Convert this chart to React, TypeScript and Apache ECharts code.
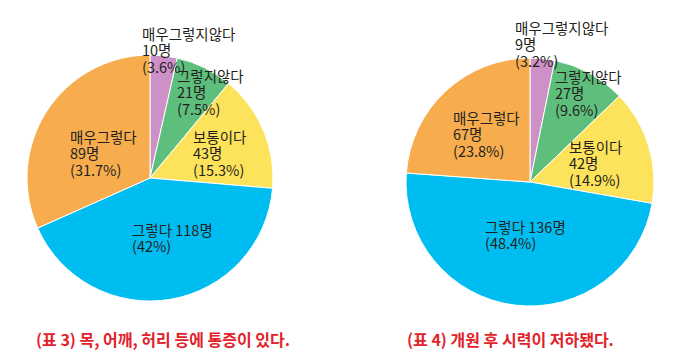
import React, { useEffect, useRef } from "react";
import * as echarts from "echarts";

const categories = ["매우그렇지않다", "그렇지않다", "보통이다", "그렇다", "매우그렇다"];
const colors = ["#CD90C7", "#5EBE7C", "#FDE35B", "#00BDF1", "#F7AD4E"];

const leftValues = [10, 21, 43, 118, 89];
const leftPercents = ["3.6", "7.5", "15.3", "42", "31.7"];
const leftCaption = "(표 3) 목, 어깨, 허리 등에 통증이 있다.";

const rightValues = [9, 27, 42, 136, 67];
const rightPercents = ["3.2", "9.6", "14.9", "48.4", "23.8"];
const rightCaption = "(표 4) 개원 후 시력이 저하됐다.";

// label anchor offsets (top-left of label block) relative to pie centre
const leftLabelOffsets = [[-8, -153], [27, -111], [43, -50], [-18, 43], [-80, -50]];
const rightLabelOffsets = [[-15, -163], [25, -114], [39, -44], [-45, 36], [-77, -73]];

const LEFT_CENTER = [150, 178];
const RIGHT_CENTER = [530, 182];

function makeSeries(values: number[], percents: string[], center: number[], radius: number, offsets: number[][]) {
  return {
    type: "pie",
    center,
    radius,
    startAngle: 90,
    clockwise: true,
    avoidLabelOverlap: false,
    itemStyle: { borderColor: "#ffffff", borderWidth: 1 },
    label: {
      show: true,
      position: "inside",
      color: "#231F20",
      fontSize: 14.5,
      lineHeight: 16.5,
      fontFamily: "'Noto Sans CJK KR', 'Noto Sans', sans-serif",
      align: "left",
      formatter: (p: any) => {
        const pct = percents[p.dataIndex];
        if (p.name === "그렇다") return `${p.name} ${p.value}명\n(${pct}%)`;
        return `${p.name}\n${p.value}명\n(${pct}%)`;
      },
    },
    labelLine: { show: false },
    labelLayout: (params: any) => {
      const o = offsets[params.dataIndex];
      return { x: center[0] + o[0], y: center[1] + o[1], align: "left", verticalAlign: "top" };
    },
    emphasis: { disabled: true },
    data: categories.map((name, i) => ({ name, value: values[i], itemStyle: { color: colors[i] } })),
  };
}

export default function App() {
  const ref = useRef<HTMLDivElement>(null);
  useEffect(() => {
    const chart = echarts.init(ref.current!, undefined, { renderer: "svg" });
    chart.setOption({
      animation: false,
      backgroundColor: "#ffffff",
      title: [
        {
          text: leftCaption,
          left: 31,
          top: 326,
          textStyle: { color: "#E1222B", fontSize: 16, fontWeight: "bold", fontFamily: "'Noto Sans CJK KR', sans-serif" },
        },
        {
          text: rightCaption,
          left: 402,
          top: 326,
          textStyle: { color: "#E1222B", fontSize: 16, fontWeight: "bold", fontFamily: "'Noto Sans CJK KR', sans-serif" },
        },
      ],
      series: [
        makeSeries(leftValues, leftPercents, LEFT_CENTER, 123, leftLabelOffsets),
        makeSeries(rightValues, rightPercents, RIGHT_CENTER, 124, rightLabelOffsets),
      ],
    });
    return () => chart.dispose();
  }, []);
  return <div ref={ref} style={{ position: "fixed", left: 0, top: 0, width: 680, height: 358 }} />;
}
